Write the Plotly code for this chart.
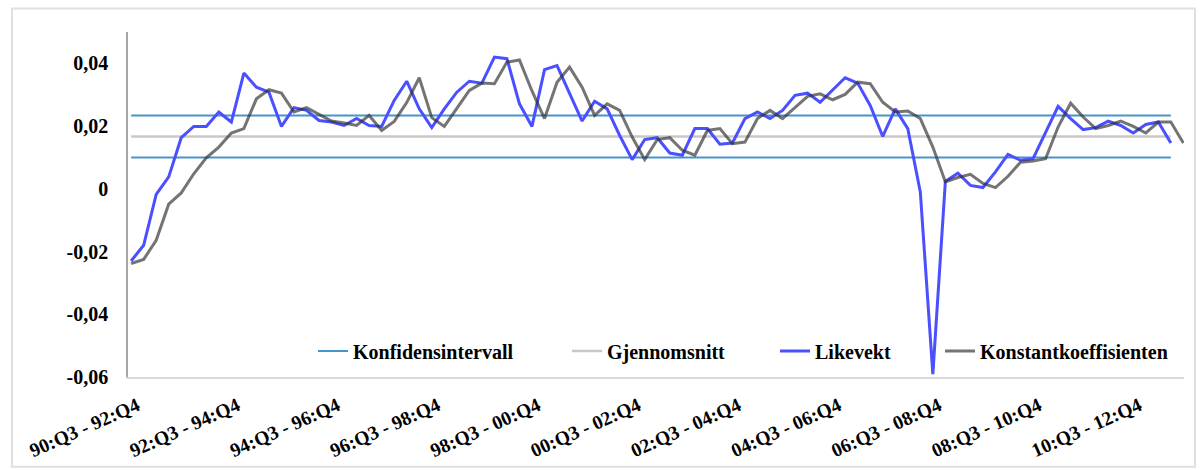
import plotly.graph_objects as go

# Rolling two-and-a-half-year estimation windows, 90:Q3-92:Q4 onward
N_WINDOWS = 85


def window_label(i):
    s = 1990 * 4 + 2 + i          # start quarter (90:Q3)
    e = 1992 * 4 + 3 + i          # end quarter (92:Q4)
    return f"{(s // 4) % 100:02d}:Q{s % 4 + 1} - {(e // 4) % 100:02d}:Q{e % 4 + 1}"


categories = [window_label(i) for i in range(N_WINDOWS)]
tick_labels = categories[::8]

likevekt = [
    -0.0230, -0.0180, -0.0018, 0.0038, 0.0163, 0.0199, 0.0199, 0.0245, 0.0213, 0.0369,
    0.0324, 0.0308, 0.0199, 0.0259, 0.0250, 0.0218, 0.0213, 0.0202, 0.0224, 0.0202,
    0.0199, 0.0282, 0.0343, 0.0255, 0.0195, 0.0255, 0.0308, 0.0343, 0.0337, 0.0420,
    0.0415, 0.0271, 0.0199, 0.0380, 0.0393, 0.0303, 0.0216, 0.0279, 0.0255, 0.0170,
    0.0093, 0.0157, 0.0163, 0.0114, 0.0107, 0.0192, 0.0192, 0.0142, 0.0146, 0.0224,
    0.0245, 0.0224, 0.0250, 0.0298, 0.0305, 0.0276, 0.0314, 0.0354, 0.0337, 0.0266,
    0.0167, 0.0255, 0.0192, -0.0010, -0.0591, 0.0024, 0.0050, 0.0011, 0.0004, 0.0054,
    0.0110, 0.0091, 0.0096, 0.0181, 0.0263, 0.0224, 0.0189, 0.0195, 0.0216, 0.0202,
    0.0178, 0.0205, 0.0213, 0.0146,
]

konstantkoeffisienten = [
    -0.0238, -0.0225, -0.0164, -0.0049, -0.0013, 0.0048, 0.0099, 0.0133, 0.0178, 0.0192,
    0.0287, 0.0316, 0.0305, 0.0245, 0.0259, 0.0237, 0.0216, 0.0210, 0.0202, 0.0234,
    0.0186, 0.0215, 0.0275, 0.0354, 0.0227, 0.0199, 0.0255, 0.0314, 0.0337, 0.0335,
    0.0404, 0.0411, 0.0312, 0.0224, 0.0340, 0.0388, 0.0324, 0.0234, 0.0271, 0.0250,
    0.0165, 0.0093, 0.0157, 0.0163, 0.0123, 0.0107, 0.0186, 0.0192, 0.0144, 0.0149,
    0.0224, 0.0250, 0.0224, 0.0261, 0.0295, 0.0303, 0.0284, 0.0301, 0.0340, 0.0335,
    0.0276, 0.0245, 0.0248, 0.0224, 0.0133, 0.0022, 0.0036, 0.0046, 0.0017, 0.0004,
    0.0040, 0.0085, 0.0089, 0.0096, 0.0197, 0.0273, 0.0229, 0.0192, 0.0202, 0.0216,
    0.0199, 0.0178, 0.0213, 0.0213, 0.0146,
]

gjennomsnitt = 0.0167
konfidens_nedre = 0.0100
konfidens_ovre = 0.0234

y_tickvals = [-0.06, -0.04, -0.02, 0.0, 0.02, 0.04]
y_ticktext = ["-0,06", "-0,04", "-0,02", "0", "0,02", "0,04"]

ref_span = categories[:len(likevekt)]

SERIF = "Liberation Serif"
FONT = dict(family=SERIF, size=20, color="black", weight="bold")

fig = go.Figure()

fig.add_trace(go.Scatter(
    x=ref_span, y=[konfidens_ovre] * len(ref_span), mode="lines",
    name="Konfidensintervall", legendgroup="ki", legend="legend",
    line=dict(color="#4a93c9", width=2), hoverinfo="skip"))
fig.add_trace(go.Scatter(
    x=ref_span, y=[konfidens_nedre] * len(ref_span), mode="lines",
    name="Konfidensintervall", legendgroup="ki", showlegend=False,
    line=dict(color="#4a93c9", width=2), hoverinfo="skip"))
fig.add_trace(go.Scatter(
    x=ref_span, y=[gjennomsnitt] * len(ref_span), mode="lines",
    name="Gjennomsnitt", legend="legend2",
    line=dict(color="#c8c8c8", width=2.5), hoverinfo="skip"))
fig.add_trace(go.Scatter(
    x=categories[:len(likevekt)], y=likevekt, mode="lines",
    name="Likevekt", legend="legend3",
    line=dict(color="#4a50ff", width=3)))
fig.add_trace(go.Scatter(
    x=categories[:len(konstantkoeffisienten)], y=konstantkoeffisienten, mode="lines",
    name="Konstantkoeffisienten", legend="legend4",
    line=dict(color="rgba(50,50,50,0.68)", width=3)))

W, H = 1202, 470
L, R, T, B = 128, 18, 31.5, 93


def legend_at(px_left):
    return dict(
        xref="container", yref="container",
        x=px_left / W, y=1 - 351 / H, xanchor="left", yanchor="middle",
        orientation="h", bgcolor="rgba(0,0,0,0)", borderwidth=0,
        itemwidth=30, font=FONT,
    )


fig.update_layout(
    width=W, height=H,
    margin=dict(l=L, r=R, t=T, b=B, pad=0, autoexpand=False),
    paper_bgcolor="white", plot_bgcolor="white",
    font=FONT,
    legend=legend_at(313),
    legend2=legend_at(567),
    legend3=legend_at(775),
    legend4=legend_at(940),
    xaxis=dict(
        type="category", range=[-0.25, 84.05], automargin=False,
        tickmode="array", tickvals=tick_labels, ticktext=tick_labels,
        tickangle=-24, ticks="", ticklabelstandoff=8, ticklabelshift=6,
        tickfont=dict(family=SERIF, size=19.5, color="black", weight="bold"),
        showgrid=False, zeroline=False,
        showline=True, linecolor="#d9d9d9", linewidth=2,
    ),
    yaxis=dict(
        range=[-0.06, 0.05], automargin=False,
        tickmode="array", tickvals=y_tickvals, ticktext=y_ticktext,
        ticks="", ticklabelstandoff=14,
        tickfont=dict(family=SERIF, size=20, color="black", weight="bold"),
        showgrid=False, zeroline=False,
        showline=True, linecolor="#a6a6a6", linewidth=1.5,
    ),
    shapes=[dict(
        type="rect", xref="paper", yref="paper", layer="below",
        x0=(12 - L) / (W - L - R), x1=(1195 - L) / (W - L - R),
        y0=-(467 - (H - B)) / (H - B - T), y1=((H - B) - 8) / (H - B - T),
        line=dict(color="#e0e0e0", width=2), fillcolor="rgba(0,0,0,0)",
    )],
)

fig.write_html("out.html")
